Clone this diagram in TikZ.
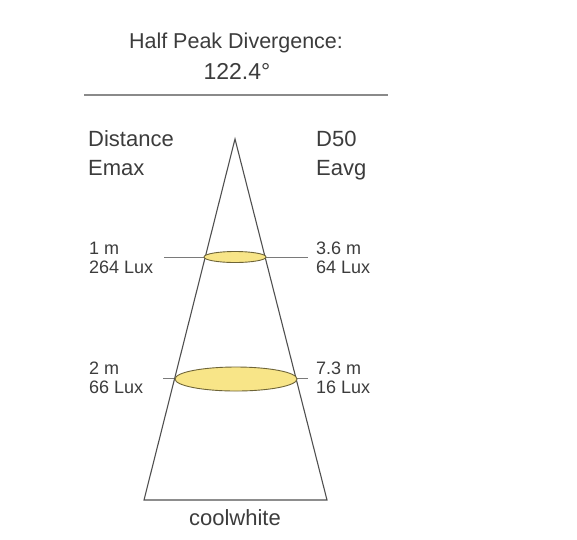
\documentclass[tikz,border=0pt]{standalone}
\usepackage{fontspec}
\usepackage{xcolor}
\usepackage{tikz}
\usetikzlibrary{shapes.geometric}
\setmainfont{Liberation Sans}
\definecolor{TextGrey}{HTML}{3C3C3C}
\definecolor{ConeGrey}{HTML}{505050}
\definecolor{TickGrey}{HTML}{7A7A7A}
\definecolor{RuleGrey}{HTML}{8A8A8A}
\definecolor{SpotYellow}{HTML}{F8E588}
\definecolor{SpotEdge}{HTML}{6E6437}

\begin{document}
\begin{tikzpicture}[x=1pt,y=-1pt,
  heading/.style={font=\fontsize{21.5}{25}\selectfont,text=TextGrey,inner sep=0pt,anchor=base},
  big/.style={font=\fontsize{22}{26}\selectfont,text=TextGrey,inner sep=0pt,anchor=base west},
  small/.style={font=\fontsize{18}{21}\selectfont,text=TextGrey,inner sep=0pt,anchor=base west},
  spot/.style={ellipse,draw=SpotEdge,fill=SpotYellow,line width=0.9pt,inner sep=0pt},
  cone/.style={draw=ConeGrey,line width=1.1pt,line join=miter},
  tick/.style={draw=TickGrey,line width=1pt},
  rule/.style={draw=RuleGrey,line width=2pt}
]
\useasboundingbox (0,0) rectangle (577,539);

% title
\node[heading] (title) at (236,48) {Half Peak Divergence:};
\node[heading,font=\fontsize{23}{26}\selectfont] (angle) at (237,79) {122.4°};
\coordinate (ruleL) at (84,95);
\coordinate (ruleR) at (388,95);
\draw[rule] (ruleL) -- (ruleR);

% column heads
\node[big] (dist) at (88,146) {Distance};
\node[big] (emax) at (88,175) {Emax};
\node[big] (d50) at (316,146) {D50};
\node[big] (eavg) at (316,175) {Eavg};

% ticks
\coordinate (t1L) at (164,257);
\coordinate (t1R) at (308,257);
\coordinate (t2L) at (163,378);
\coordinate (t2R) at (308,378);
\draw[tick] (t1L) -- (t1R);
\draw[tick] (t2L) -- (t2R);

% cone
\coordinate (apex) at (235,139);
\coordinate (baseL) at (144,500);
\coordinate (baseR) at (327,500);
\draw[cone] (apex) -- (baseL) -- (baseR) -- cycle;

% light spots
\node[spot,minimum width=62pt,minimum height=11pt] (spot1) at (235,257) {};
\node[spot,minimum width=122pt,minimum height=24pt] (spot2) at (236,379) {};

% values
\node[small] (d1) at (89,254) {1 m};
\node[small] (e1) at (89,273) {264 Lux};
\node[small] (w1) at (316,254) {3.6 m};
\node[small] (a1) at (316,273) {64 Lux};
\node[small] (d2) at (89,374) {2 m};
\node[small] (e2) at (89,393) {66 Lux};
\node[small] (w2) at (316,374) {7.3 m};
\node[small] (a2) at (316,393) {16 Lux};

\node[big,anchor=base] (colour) at (235,525) {coolwhite};
\end{tikzpicture}
\end{document}
